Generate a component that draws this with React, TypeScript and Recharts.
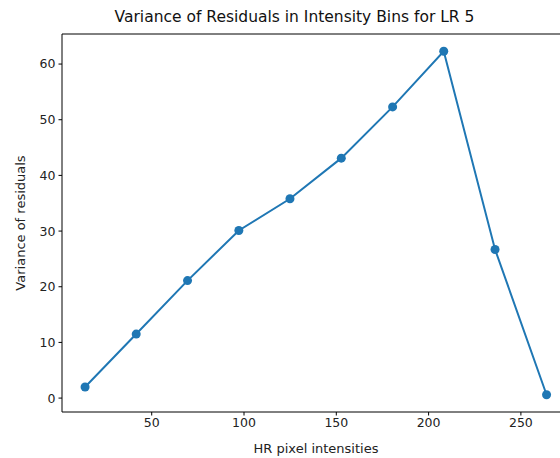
import React from "react";
import { LineChart, Line, XAxis, YAxis, ReferenceLine } from "recharts";

// bin centres (HR pixel intensity) and variance of residuals per bin
const BIN_CENTERS = [13.9, 41.6, 69.4, 97.2, 124.9, 152.7, 180.5, 208.2, 236.0, 263.9];
const VARIANCES = [2.0, 11.5, 21.1, 30.1, 35.8, 43.1, 52.3, 62.3, 26.7, 0.6];
const X_TICKS = [50, 100, 150, 200, 250];
const Y_TICKS = [0, 10, 20, 30, 40, 50, 60];

const data = BIN_CENTERS.map((x, i) => ({ x, v: VARIANCES[i] }));

const BLUE = "#1f77b4";
const FONT = "'DejaVu Sans', sans-serif";
const Y_MAX = 65.4;

const YLabel = (props: any) => {
  const vb = props.viewBox || { y: 0, height: 0 };
  const cy = vb.y + vb.height / 2;
  return (
    <text
      x={20}
      y={cy}
      transform={`rotate(-90, 20, ${cy})`}
      textAnchor="middle"
      dominantBaseline="central"
      fontSize={13}
      fill="#222"
      fontFamily={FONT}
    >
      Variance of residuals
    </text>
  );
};

const XLabel = (props: any) => {
  const vb = props.viewBox || { x: 0, width: 0 };
  return (
    <text
      x={vb.x + vb.width / 2}
      y={453}
      textAnchor="middle"
      fontSize={13}
      fill="#222"
      fontFamily={FONT}
    >
      HR pixel intensities
    </text>
  );
};

const App: React.FC = () => {
  return (
    <div
      style={{
        position: "fixed",
        left: 0,
        top: 0,
        width: 560,
        height: 458,
        overflow: "hidden",
        background: "#fff",
        fontFamily: FONT,
      }}
    >
      <div
        style={{
          position: "absolute",
          left: 0,
          top: 8,
          width: 589,
          textAlign: "center",
          fontSize: 15.5,
          color: "#111",
        }}
      >
        Variance of Residuals in Intensity Bins for LR 5
      </div>
      <LineChart
        width={580}
        height={458}
        data={data}
        margin={{ top: 34, right: 10, left: 0, bottom: 16 }}
      >
        <XAxis
          dataKey="x"
          type="number"
          domain={[1.4, 276.6]}
          ticks={X_TICKS}
          allowDataOverflow
          height={30}
          tickSize={3.5}
          tickMargin={3}
          stroke="#000"
          tick={{ fill: "#222", fontSize: 12.5 }}
          label={<XLabel />}
        />
        <YAxis
          type="number"
          domain={[-2.5, Y_MAX]}
          ticks={Y_TICKS}
          allowDataOverflow
          width={62}
          tickSize={3.5}
          tickMargin={3}
          stroke="#000"
          tick={{ fill: "#222", fontSize: 12.5 }}
          label={<YLabel />}
        />
        <ReferenceLine y={Y_MAX} stroke="#000" strokeWidth={1} />
        <Line
          dataKey="v"
          stroke={BLUE}
          strokeWidth={2}
          dot={{ r: 4.5, fill: BLUE, stroke: BLUE, strokeWidth: 0 }}
          activeDot={false}
          isAnimationActive={false}
        />
      </LineChart>
    </div>
  );
};

export default App;
